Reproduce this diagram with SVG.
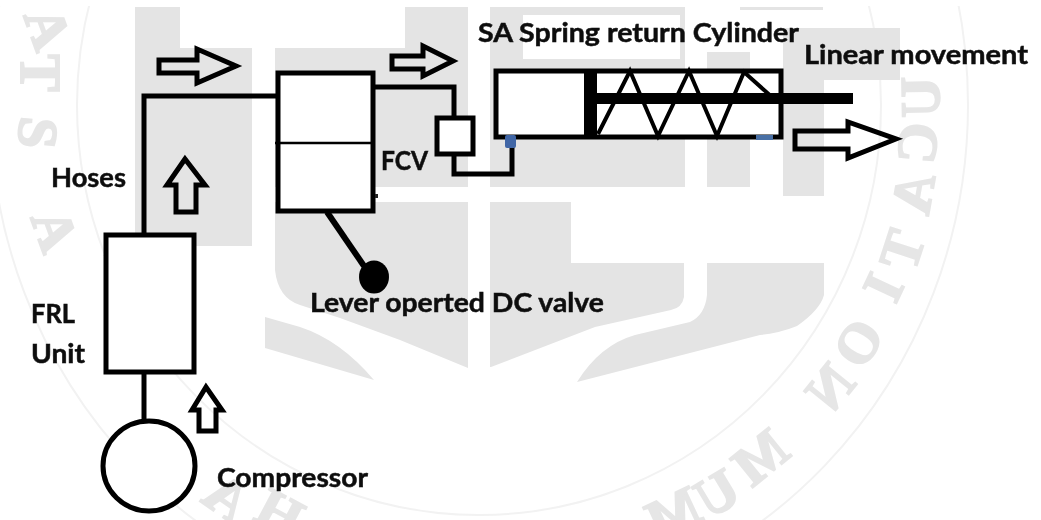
<svg xmlns="http://www.w3.org/2000/svg" width="1041" height="520" viewBox="0 0 1041 520">
<style>
.wm{fill:#e4e4e4}
.ring{fill:none;stroke:#f2f2f2;stroke-width:2}
.wl{font-family:"Liberation Serif",serif;font-weight:700;font-size:56px;fill:#e6e6e6;stroke:#e6e6e6;stroke-width:2;text-anchor:middle}
.ln{fill:none;stroke:#000;stroke-width:5;stroke-linejoin:miter}
.box{fill:#fff;stroke:#000;stroke-width:5}
.arrow{fill:none;stroke:#000;stroke-width:5;stroke-linejoin:miter}
.lb{font-family:Lato,"Open Sans",sans-serif;font-weight:700;font-size:27px;fill:#111;stroke:#111;stroke-width:.5}
</style>
<defs><filter id="soft" x="0" y="0" width="100%" height="100%"><feGaussianBlur stdDeviation="0.45"/></filter></defs>
<rect width="1041" height="520" fill="#fff"/>
<g filter="url(#soft)">
<g id="watermark">
<ellipse class="ring" cx="479" cy="105" rx="402" ry="410"/>
<ellipse class="ring" cx="479" cy="105" rx="489" ry="510"/>
<rect x="-2" y="-2" width="1045" height="8" fill="#fff"/>
<path class="wm" d="M135 7H180V48H252V246H135Z"/>
<path class="wm" d="M275 48H405V7H468V187H275Z"/>
<path class="wm" d="M490 7H685V187H490ZM523 15V59H680V15Z" fill-rule="evenodd"/>
<rect class="wm" x="707" y="52" width="43" height="135"/>
<rect class="wm" x="740" y="7" width="83" height="3"/>
<path class="wm" d="M783 28H900V80H824V196H783Z"/>
<path class="wm" d="M275 202H468V368L400 340L340 318L300 305Q278 298 275 270Z"/>
<path class="wm" d="M490 202H571V263H684V297Q682 308 671 310L595 327L491 367H490Z"/>
<path class="wm" d="M707 263H824V295Q820 310 797 326Q780 333 760 335L577 382Q600 345 635 335L690 322Q705 315 707 295Z"/>
<path class="wm" d="M265 317L300 327Q340 340 374 380L265 348Z"/>
<g>
<text class="wl" transform="translate(48 28) rotate(70)" y="19">A</text>
<text class="wl" transform="translate(40 73) rotate(90)" y="19">T</text>
<text class="wl" transform="translate(38 133) rotate(95)" y="19">S</text>
<text class="wl" transform="translate(55 230) rotate(70)" y="19">A</text>
<text class="wl" transform="translate(920 97) rotate(-91) scale(-1 1)" y="19">U</text>
<text class="wl" transform="translate(917 143) rotate(-85) scale(-1 1)" y="19">C</text>
<text class="wl" transform="translate(913 193) rotate(-80) scale(-1 1)" y="19">A</text>
<text class="wl" transform="translate(902 250) rotate(-72) scale(-1 1)" y="19">T</text>
<text class="wl" transform="translate(883 287) rotate(-65) scale(-1 1)" y="19">I</text>
<text class="wl" transform="translate(858 343) rotate(-58) scale(-1 1)" y="19">O</text>
<text class="wl" transform="translate(830 387) rotate(-51) scale(-1 1)" y="19">N</text>
<text class="wl" transform="translate(760 457) rotate(-39) scale(-1 1)" y="19">M</text>
<text class="wl" transform="translate(717 493) rotate(-31) scale(-1 1)" y="19">U</text>
<text class="wl" transform="translate(673 513) rotate(-25) scale(-1 1)" y="19">M</text>
<text class="wl" transform="translate(227 497) rotate(35) scale(-1 1)" y="19">A</text>
<text class="wl" transform="translate(280 513) rotate(28) scale(-1 1)" y="19">H</text>
</g>
</g>
<g id="connectors">
<polyline class="ln" points="144,234 144,96 276,96"/>
<polyline class="ln" points="374,87 454,87 454,118"/>
<polyline class="ln" points="454,154 454,174 512,174 512,140"/>
<line class="ln" x1="144" y1="372" x2="144" y2="421"/>
<line x1="327" y1="212" x2="364" y2="266" stroke="#000" stroke-width="6"/>
</g>
<g id="compressor">
<ellipse class="box" cx="149" cy="466" rx="46" ry="45"/>
<text class="lb" x="217" y="487" textLength="151" lengthAdjust="spacingAndGlyphs">Compressor</text>
</g>
<g id="frl-unit">
<rect class="box" x="106" y="235" width="88" height="137"/>
<text class="lb" x="31" y="323" textLength="44" lengthAdjust="spacingAndGlyphs">FRL</text>
<text class="lb" x="31" y="363" textLength="54" lengthAdjust="spacingAndGlyphs">Unit</text>
</g>
<g id="hoses"><text class="lb" x="51" y="187" textLength="75" lengthAdjust="spacingAndGlyphs">Hoses</text></g>
<g id="dc-valve">
<rect class="box" x="278" y="73" width="95" height="138"/>
<line x1="275" y1="143" x2="373" y2="143" stroke="#000" stroke-width="2.5"/>
<rect x="375" y="194" width="3" height="4" fill="#222"/>
<ellipse cx="374" cy="277" rx="15" ry="16.500" fill="#000"/>
<text class="lb" x="310" y="312" textLength="294" lengthAdjust="spacingAndGlyphs">Lever operted DC valve</text>
</g>
<g id="fcv">
<rect class="box" x="437" y="118" width="36" height="36"/>
<text class="lb" x="381" y="170" textLength="47" lengthAdjust="spacingAndGlyphs">FCV</text>
</g>
<g id="cylinder">
<rect class="box" x="496" y="71" width="285" height="66"/>
<polyline fill="none" stroke="#000" stroke-width="4" points="598,134 630,71 658,136 689,71 717,136 744,72 773,98"/>
<rect x="584" y="71" width="13" height="66" fill="#000"/>
<rect x="597" y="93" width="256" height="11" fill="#000"/>
<rect x="505" y="135" width="11" height="13" rx="2" fill="#3f66a6"/>
<rect x="756" y="135" width="17" height="5" fill="#4a6fa5"/>
<text class="lb" x="478" y="42" textLength="321" lengthAdjust="spacingAndGlyphs">SA Spring return Cylinder</text>
<text class="lb" x="804" y="64" textLength="224" lengthAdjust="spacingAndGlyphs">Linear movement</text>
</g>
<g id="flow-arrows">
<polygon class="arrow" points="159,60 197,60 197,49 236,66 197,83 197,73 159,73"/>
<polygon class="arrow" points="392,56 423,56 423,46 453,61 423,76 423,69 392,69"/>
<polygon class="arrow" points="795,131 848,131 848,122 896,139 848,158 848,149 795,149"/>
<polygon class="arrow" points="185,159 167,185 176,185 176,212 196,212 196,185 205,185"/>
<polygon class="arrow" points="206,387 192,410 199,410 199,431 216,431 216,410 222,410"/>
</g>
</g>
</svg>
